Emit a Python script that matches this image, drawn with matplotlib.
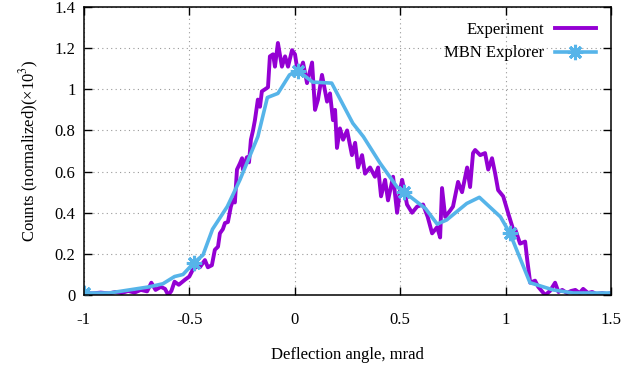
# deflection angle distribution: experiment vs MBN Explorer simulation
import matplotlib.pyplot as plt
import numpy as np

plt.rcParams['font.family'] = ['Liberation Serif', 'DejaVu Serif']
plt.rcParams['mathtext.fontset'] = 'stix'
plt.rcParams['axes.unicode_minus'] = False

# measured distribution (mrad, counts x1e3)
exp_x = np.array([
    -1.000, -0.960, -0.920, -0.880, -0.850, -0.820, -0.790, -0.760, -0.730, -0.700,
    -0.680, -0.660, -0.635, -0.615, -0.600, -0.585, -0.570, -0.550, -0.520, -0.500,
    -0.485, -0.465, -0.450, -0.426, -0.412, -0.393, -0.379, -0.364, -0.355, -0.341,
    -0.331, -0.317, -0.303, -0.293, -0.284, -0.274, -0.260, -0.250, -0.246, -0.227,
    -0.217, -0.208, -0.198, -0.189, -0.175, -0.165, -0.156, -0.141, -0.127, -0.118,
    -0.103, -0.094, -0.080, -0.061, -0.046, -0.032, -0.013, 0.001, 0.010, 0.025,
    0.039, 0.058, 0.082, 0.096, 0.110, 0.129, 0.153, 0.167, 0.181, 0.191,
    0.200, 0.214, 0.229, 0.248, 0.271, 0.286, 0.300, 0.319, 0.333, 0.357,
    0.380, 0.395, 0.409, 0.428, 0.442, 0.466, 0.485, 0.499, 0.509, 0.532,
    0.556, 0.580, 0.608, 0.630, 0.651, 0.675, 0.689, 0.698, 0.713, 0.736,
    0.750, 0.774, 0.793, 0.817, 0.831, 0.845, 0.855, 0.879, 0.902, 0.917,
    0.935, 0.950, 0.964, 0.988, 1.011, 1.035, 1.045, 1.068, 1.092, 1.102,
    1.116, 1.139, 1.154, 1.187, 1.210, 1.234, 1.250, 1.268, 1.290, 1.310,
    1.330, 1.350, 1.367, 1.390, 1.410, 1.430, 1.457, 1.480, 1.500])
exp_y = np.array([
    0.010, 0.008, 0.012, 0.008, 0.015, 0.010, 0.020, 0.012, 0.025, 0.018,
    0.060, 0.025, 0.040, 0.030, 0.000, 0.020, 0.065, 0.050, 0.075, 0.090,
    0.120, 0.140, 0.135, 0.170, 0.135, 0.145, 0.220, 0.235, 0.300, 0.320,
    0.350, 0.355, 0.430, 0.460, 0.450, 0.610, 0.640, 0.665, 0.610, 0.670,
    0.645, 0.755, 0.800, 0.850, 0.950, 0.915, 0.990, 1.000, 1.010, 1.160,
    1.170, 1.110, 1.225, 1.110, 1.160, 1.110, 1.190, 1.170, 1.110, 1.090,
    1.130, 1.030, 1.130, 0.900, 0.950, 1.070, 0.940, 0.980, 0.850, 0.900,
    0.715, 0.810, 0.755, 0.800, 0.680, 0.740, 0.620, 0.680, 0.590, 0.620,
    0.575, 0.620, 0.480, 0.560, 0.460, 0.575, 0.400, 0.510, 0.560, 0.440,
    0.400, 0.430, 0.440, 0.380, 0.300, 0.330, 0.280, 0.520, 0.380, 0.410,
    0.430, 0.550, 0.500, 0.620, 0.525, 0.690, 0.705, 0.680, 0.690, 0.610,
    0.665, 0.590, 0.510, 0.480, 0.400, 0.320, 0.320, 0.250, 0.260, 0.170,
    0.060, 0.070, 0.040, 0.000, 0.020, 0.060, 0.015, 0.025, 0.010, 0.020,
    0.025, 0.010, 0.030, 0.010, 0.015, 0.005, 0.010, 0.005, 0.010])

# simulated distribution
sim_x = [-1.0, -0.88, -0.69, -0.625, -0.57, -0.53, -0.48, -0.435, -0.39, -0.32,
         -0.26, -0.175, -0.13, -0.08, -0.025, 0.015, 0.085, 0.175, 0.275, 0.325,
         0.405, 0.485, 0.52, 0.62, 0.675, 0.72, 0.815, 0.875, 0.975, 1.02,
         1.115, 1.225, 1.32, 1.5]
sim_y = [0.01, 0.01, 0.04, 0.055, 0.09, 0.10, 0.155, 0.195, 0.32, 0.43,
         0.56, 0.77, 0.96, 0.98, 1.07, 1.09, 1.035, 1.03, 0.835, 0.77,
         0.64, 0.525, 0.50, 0.42, 0.345, 0.365, 0.445, 0.475, 0.38, 0.30,
         0.06, 0.025, 0.01, 0.01]
sim_marks = [0, 6, 15, 22, 29]

fig = plt.figure(figsize=(6.4, 3.67), dpi=100)
ax = fig.add_axes([0.131, 0.196, 0.824, 0.785])

ax.plot(exp_x, exp_y, color='#9400d3', lw=2.8, label='Experiment')
ax.plot(sim_x, sim_y, color='#56b4e9', lw=2.6, marker=(8, 2, 0), ms=11, mew=2.2,
        markevery=sim_marks, label='MBN Explorer')

ax.set_xlim(-1, 1.5)
ax.set_ylim(0, 1.4)
ax.set_xticks([-1, -0.5, 0, 0.5, 1, 1.5])
ax.set_xticklabels(['-1', '-0.5', '0', '0.5', '1', '1.5'])
ax.set_yticks([0, 0.2, 0.4, 0.6, 0.8, 1, 1.2, 1.4])
ax.set_yticklabels(['0', '0.2', '0.4', '0.6', '0.8', '1', '1.2', '1.4'])
ax.tick_params(direction='in', length=6, width=1, top=True, right=True,
               labelsize=12)
ax.tick_params(axis='x', pad=12)
ax.tick_params(axis='y', pad=6)
ax.grid(True, ls=(0, (1, 3)), color='#999999', lw=0.8)
for s in ax.spines.values():
    s.set_linewidth(1.1)

ax.set_xlabel('Deflection angle, mrad', fontsize=12, labelpad=14)
ax.set_ylabel('Counts (normalized)(×10$^3$)', fontsize=12, labelpad=10)

ax.legend(loc='upper right', frameon=False, markerfirst=False, fontsize=12,
          handlelength=2.5, handletextpad=0.6, borderaxespad=0.5,
          labelspacing=0.45)

plt.savefig('out.png')
